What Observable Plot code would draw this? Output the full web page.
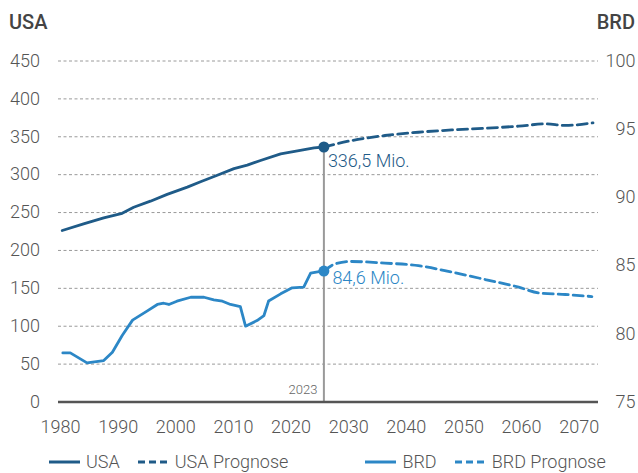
<!DOCTYPE html>
<html>
<head>
<meta charset="utf-8">
<script src="https://cdn.jsdelivr.net/npm/d3@7"></script>
<script src="https://cdn.jsdelivr.net/npm/@observablehq/plot@0.6"></script>
<style>
  html, body { margin: 0; padding: 0; background: #fff; }
  #wrap { position: relative; width: 638px; height: 473px; overflow: hidden; font-family: Roboto, "Liberation Sans", Arial, sans-serif; }
  .title { position: absolute; top: 12px; font-size: 20px; line-height: 20px; font-weight: 500; color: #444; }
  #chart { position: absolute; top: 40px; left: 0; }
  #chart svg text { font-weight: 300; }
  #legend { position: absolute; top: 453px; left: 0; width: 638px; display: flex; align-items: center; font-size: 18px; line-height: 18px; font-weight: 300; color: #555; white-space: nowrap; }
  #legend .item { display: flex; align-items: center; }
  #legend svg { margin-right: 6px; }
</style>
</head>
<body>
<div id="wrap">
  <div class="title" style="left:9px">USA</div>
  <div class="title" style="right:3px">BRD</div>
  <div id="chart"></div>
  <div id="legend"></div>
</div>
<script>
// ---- Data (x positions on the year axis) ----
const usaColor = "#1f5b88";
const brdColor = "#2c87c6";

const xTicks = [1980, 1990, 2000, 2010, 2020, 2030, 2040, 2050, 2060, 2070];
const usaTicks = [0, 50, 100, 150, 200, 250, 300, 350, 400, 450];
const brdTicks = [75, 80, 85, 90, 95, 100];

const usaHistYear  = [1980.3, 1984.0, 1987.5, 1990.7, 1992.7, 1995.6, 1998.5, 2002.0, 2004.3, 2007.2, 2010.1, 2012.4, 2014.7, 2018.2, 2021.6, 2024.0, 2025.7];
const usaHistValue = [226.3, 235, 243, 249, 257, 265, 274, 283.5, 290.6, 299.3, 308, 312.5, 318.7, 327.5, 331.9, 335.4, 336.5];

const usaFcYear  = [2025.7, 2030.5, 2036.3, 2042.1, 2047.9, 2053.7, 2059.5, 2064.1, 2067.6, 2072.4];
const usaFcValue = [336.5, 345, 351.7, 356, 359, 361.3, 364, 367, 365, 368.4];

const brdHistYear  = [1980.4, 1981.7, 1984.6, 1987.5, 1989.0, 1990.7, 1992.5, 1995.0, 1996.8, 1997.9, 1998.8, 2000.2, 2002.6, 2004.9, 2006.6, 2008.1, 2009.5, 2011.2, 2012.1, 2014.1, 2015.3, 2016.1, 2018.2, 2020.2, 2022.2, 2023.4, 2025.1, 2025.7];
const brdHistValue = [78.6, 78.6, 77.87, 78.04, 78.65, 79.88, 81.0, 81.66, 82.15, 82.24, 82.15, 82.39, 82.68, 82.68, 82.49, 82.39, 82.15, 82.0, 80.56, 80.97, 81.34, 82.4, 82.93, 83.37, 83.42, 84.44, 84.57, 84.6];

const brdFcYear  = [2025.7, 2027.7, 2030.5, 2036.3, 2042.1, 2047.9, 2053.7, 2059.5, 2062.9, 2067.6, 2072.2];
const brdFcValue = [84.6, 85.13, 85.3, 85.18, 85.0, 84.52, 83.98, 83.42, 83.0, 82.88, 82.73];

const markerYear = 2025.7;
const markerLabel = "2023";
const usaNow = 336.5, usaNowLabel = "336,5 Mio.";
const brdNow = 84.6,  brdNowLabel = "84,6 Mio.";

const legendItems = [
  {label: "USA", color: usaColor, dash: null, gapBefore: 49},
  {label: "USA Prognose", color: usaColor, dash: "7,4", gapBefore: 18},
  {label: "BRD", color: brdColor, dash: null, gapBefore: 77},
  {label: "BRD Prognose", color: brdColor, dash: "7,4", gapBefore: 18}
];

// ---- Dual axis: BRD (75..100) mapped onto USA scale (0..450) ----
const toLeft = b => (b - 75) * 18;
const fromLeft = v => v / 18 + 75;

const zip = (xs, ys) => xs.map((x, i) => ({x, y: ys[i]}));
const usaHist = zip(usaHistYear, usaHistValue);
const usaFc = zip(usaFcYear, usaFcValue);
const brdHist = zip(brdHistYear, brdHistValue.map(toLeft));
const brdFc = zip(brdFcYear, brdFcValue.map(toLeft));

const chart = Plot.plot({
  width: 638,
  height: 413,
  marginLeft: 58,
  marginRight: 40,
  marginTop: 20.5,
  marginBottom: 51.5,
  x: {domain: [1979.65, 2073.35]},
  y: {domain: [0, 450]},
  style: {fontFamily: "Roboto, 'Liberation Sans', Arial, sans-serif", fontSize: "18px", color: "#555", background: "transparent", overflow: "visible"},
  marks: [
    Plot.gridY(usaTicks.filter(d => d > 0), {stroke: "#9a9a9a", strokeOpacity: 1, strokeWidth: 1, strokeDasharray: "3,2.5"}),
    Plot.axisY(usaTicks, {anchor: "left", tickSize: 0, tickPadding: 18.5, label: null, fill: "#555"}),
    Plot.axisY(brdTicks.map(toLeft), {anchor: "right", tickSize: 0, tickPadding: 37, textAnchor: "end", tickFormat: v => String(Math.round(fromLeft(v))), label: null, fill: "#555"}),
    Plot.axisX(xTicks, {anchor: "bottom", tickSize: 0, tickPadding: 18, tickFormat: d => String(d), label: null, fill: "#555"}),
    Plot.ruleX([markerYear], {y1: 0, y2: usaNow, stroke: "#999", strokeWidth: 2}),
    Plot.text([markerYear], {x: d => d, y: 0, text: () => markerLabel, textAnchor: "end", dx: -6.5, dy: -12.5, fontSize: 13, fill: "#666"}),
    Plot.ruleY([0], {stroke: "#555", strokeWidth: 2.5}),
    Plot.line(usaHist, {x: "x", y: "y", stroke: usaColor, strokeWidth: 2.8}),
    Plot.line(usaFc, {x: "x", y: "y", stroke: usaColor, strokeWidth: 2.8, strokeDasharray: "10,5", curve: "monotone-x"}),
    Plot.line(brdHist, {x: "x", y: "y", stroke: brdColor, strokeWidth: 2.8}),
    Plot.line(brdFc, {x: "x", y: "y", stroke: brdColor, strokeWidth: 2.8, strokeDasharray: "10,5", curve: "monotone-x"}),
    Plot.dot([{x: markerYear, y: usaNow}], {x: "x", y: "y", r: 5.5, fill: usaColor, stroke: "none"}),
    Plot.dot([{x: markerYear, y: toLeft(brdNow)}], {x: "x", y: "y", r: 5.5, fill: brdColor, stroke: "none"}),
    Plot.text([{x: markerYear, y: usaNow}], {x: "x", y: "y", text: () => usaNowLabel, textAnchor: "start", dx: 4, dy: 14, fill: usaColor, fontSize: 18}),
    Plot.text([{x: markerYear, y: toLeft(brdNow)}], {x: "x", y: "y", text: () => brdNowLabel, textAnchor: "start", dx: 8.5, dy: 7.5, fill: brdColor, fontSize: 18})
  ]
});
document.getElementById("chart").appendChild(chart);

// ---- Legend ----
const legend = d3.select("#legend");
for (const it of legendItems) {
  const item = legend.append("div").attr("class", "item").style("margin-left", it.gapBefore + "px");
  const sw = item.append("svg").attr("width", 31).attr("height", 10);
  sw.append("line").attr("x1", 0).attr("x2", 31).attr("y1", 5).attr("y2", 5)
    .attr("stroke", it.color).attr("stroke-width", 3)
    .attr("stroke-dasharray", it.dash);
  item.append("span").text(it.label);
}
</script>
</body>
</html>
